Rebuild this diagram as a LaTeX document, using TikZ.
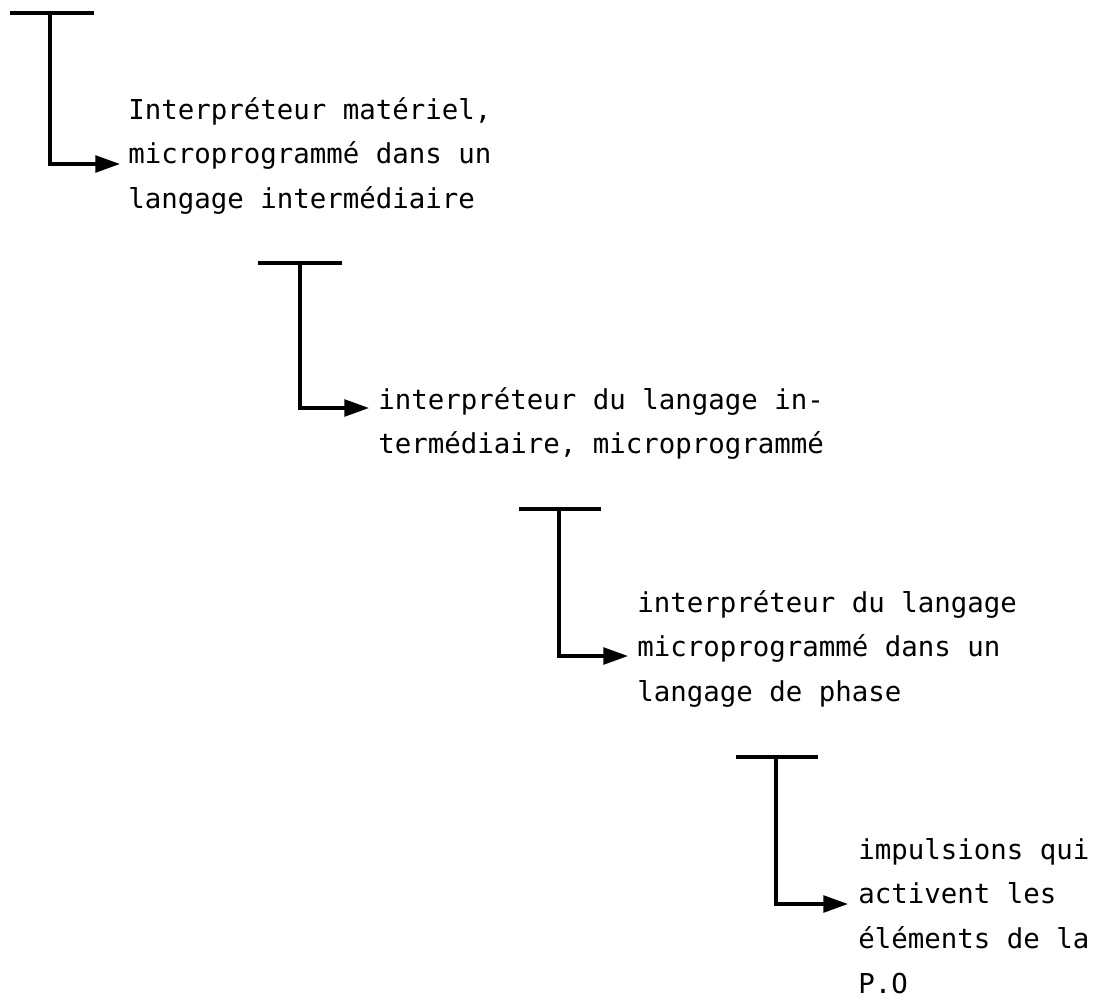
\documentclass[tikz,border=0pt]{standalone}
\usepackage{fontspec}
\setmonofont{DejaVu Sans Mono}
\usetikzlibrary{arrows.meta}
\begin{document}
\begin{tikzpicture}[x=0.02cm,y=-0.02cm,
  tbar/.style={line width=1.9pt},
  conn/.style={line width=1.9pt,-{Triangle[length=14pt,width=9.5pt]}},
  txt/.style={anchor=base west,inner sep=0pt,font=\ttfamily\fontsize{15.6pt}{25.5pt}\selectfont}]
\useasboundingbox (0,0) rectangle (1097,1001);
% block 1
\coordinate (top1) at (50,13);
\draw[tbar] (10,13) -- (94,13);
\coordinate (a1) at (120,164);
\node[txt] (t1) at (128,119) {\begin{tabular}[t]{@{}l@{}}Interpréteur matériel,\\microprogrammé dans un\\langage intermédiaire\end{tabular}};
\draw[conn] (top1) |- (a1);
% block 2
\coordinate (top2) at (300,263);
\draw[tbar] (258,263) -- (342,263);
\coordinate (a2) at (369,408);
\node[txt] (t2) at (378,409) {\begin{tabular}[t]{@{}l@{}}interpréteur du langage in-\\termédiaire, microprogrammé\end{tabular}};
\draw[conn] (top2) |- (a2);
% block 3
\coordinate (top3) at (559,509);
\draw[tbar] (519,509) -- (601,509);
\coordinate (a3) at (628,656);
\node[txt] (t3) at (637,612) {\begin{tabular}[t]{@{}l@{}}interpréteur du langage\\microprogrammé dans un\\langage de phase\end{tabular}};
\draw[conn] (top3) |- (a3);
% block 4
\coordinate (top4) at (776,757);
\draw[tbar] (736,757) -- (818,757);
\coordinate (a4) at (848,904);
\node[txt] (t4) at (858,859) {\begin{tabular}[t]{@{}l@{}}impulsions qui\\activent les\\éléments de la\\P.O\end{tabular}};
\draw[conn] (top4) |- (a4);
\end{tikzpicture}
\end{document}
